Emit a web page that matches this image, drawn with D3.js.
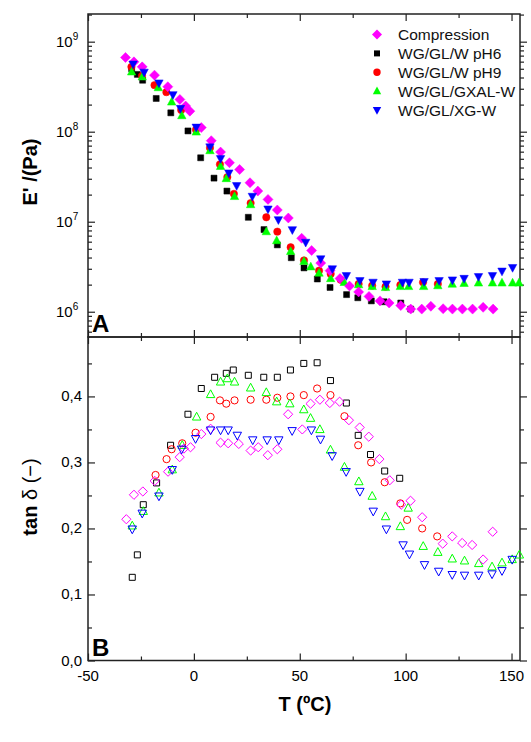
<!DOCTYPE html>
<html>
<head>
<meta charset="utf-8">
<script src="https://cdn.jsdelivr.net/npm/d3@7"></script>
<style>
body { margin:0; background:#fff; }
svg { display:block; font-family:"Liberation Sans", Arial, sans-serif; }
</style>
</head>
<body>
<svg id="chart" width="531" height="742"></svg>
<script>
// axis ranges and ticks
var tRange = [-50, 154];
var tTicks = [-50, 0, 50, 100, 150];
var tMinorTicks = [-25, 25, 75, 125];
var eRange = [5.24e5, 2.03e9];
var eTicks = [1e6, 1e7, 1e8, 1e9];
var tanRange = [0, 0.49];
var tanTicks = [0, 0.1, 0.2, 0.3, 0.4];
var tanMinorTicks = [0.05, 0.15, 0.25, 0.35, 0.45];

var seriesNames = ["Compression", "WG/GL/W pH6", "WG/GL/W pH9", "WG/GL/GXAL-W", "WG/GL/XG-W"];

// E' (Pa) vs T (ºC)
var compressionE = [[-32.3,6.68e8],[-28.3,5.97e8],[-24.4,5.25e8],[-18.6,4.25e8],[-12.3,3.16e8],[-6.6,2.28e8],[-3.9,1.93e8],[-1.9,1.69e8],[3.5,1.11e8],[8.2,7.94e7],[12.6,5.94e7],[16.8,4.52e7],[21.6,3.80e7],[26.5,2.71e7],[30.2,2.19e7],[35,1.77e7],[39.4,1.35e7],[44.6,1.10e7],[50.9,6.55e6],[55.6,4.79e6],[59.9,3.47e6],[64.3,2.86e6],[69,2.34e6],[73.5,1.93e6],[77.8,1.66e6],[82.7,1.48e6],[87.9,1.32e6],[92.2,1.25e6],[97.7,1.17e6],[102.4,1.07e6],[107.6,1.07e6],[111.9,1.15e6],[117.7,1.08e6],[122.1,1.07e6],[126.8,1.07e6],[131.6,1.07e6],[136.6,1.12e6],[141.3,1.07e6]];
var pH6E = [[-29.4,5.01e8],[-26.7,4.33e8],[-24.2,3.73e8],[-17.8,2.34e8],[-10.9,1.62e8],[-2.8,1.02e8],[3.2,5.13e7],[9.5,3.05e7],[15.6,2.19e7],[25.7,1.12e7],[33.1,8.18e6],[39.4,5.53e6],[46,3.98e6],[52,3.07e6],[58.3,2.31e6],[64.3,1.86e6],[72.1,1.55e6],[77.4,1.43e6],[83.8,1.32e6],[89.8,1.29e6],[97.7,1.25e6],[102.4,1.07e6]];
var pH9E = [[-29.5,5.25e8],[-24.5,4.17e8],[-18.6,3.29e8],[-13,2.75e8],[-6,1.74e8],[1,1.05e8],[7.6,6.61e7],[12.3,4.34e7],[15.8,3.13e7],[18.9,2.04e7],[26.8,1.61e7],[34.2,1.12e7],[39.4,7.76e6],[45.7,5.20e6],[52,3.72e6],[59.1,2.86e6],[64.6,2.63e6],[69.3,2.27e6],[77.8,2.03e6],[84.2,1.95e6],[90.5,1.90e6],[97.5,1.98e6],[108.2,2.12e6],[115.2,2.03e6]];
var gxalE = [[-29.4,4.62e8],[-24.4,4.07e8],[-16.8,3.09e8],[-10.5,2.14e8],[-5.7,1.51e8],[1.1,9.93e7],[7.6,6.17e7],[12.6,4.12e7],[15.3,3.02e7],[19.2,1.91e7],[26.8,1.55e7],[34.2,7.76e6],[39.1,6.17e6],[45.7,4.68e6],[52,3.63e6],[55.2,3.16e6],[59.1,2.69e6],[64.6,2.34e6],[71,2.12e6],[77.8,2.00e6],[84.2,1.91e6],[90.5,1.86e6],[97.5,1.91e6],[101.4,1.91e6],[108.5,1.91e6],[115.2,1.95e6],[122,2.03e6],[127.6,2.07e6],[134.4,2.09e6],[141,2.09e6],[145.5,2.09e6],[150.5,2.09e6],[153.5,2.09e6]];
var xgE = [[-28.7,5.62e8],[-23.5,4.57e8],[-16.5,3.47e8],[-9.9,2.57e8],[-6.3,1.81e8],[1.1,1.12e8],[7.6,6.76e7],[12.6,5.01e7],[16.5,3.47e7],[20.2,2.51e7],[27.6,1.91e7],[35,1.38e7],[39.9,1.05e7],[46.5,8.13e6],[52.8,5.89e6],[59.9,3.86e6],[65.4,2.99e6],[72,2.51e6],[78.4,2.21e6],[84.6,2.12e6],[90.9,2.03e6],[98.5,2.12e6],[101.6,2.12e6],[108.7,2.16e6],[115.8,2.21e6],[122.1,2.25e6],[127.6,2.34e6],[134.4,2.45e6],[141,2.51e6],[145.5,2.82e6],[150.5,3.09e6]];

// tan delta vs T (ºC)
var compressionTan = [[-31.9,0.214],[-28.3,0.251],[-24.1,0.256],[-18.5,0.272],[-12.2,0.286],[-6.7,0.308],[-4.7,0.321],[-1.6,0.323],[3.5,0.343],[7.9,0.351],[12.6,0.330],[16.2,0.329],[21.2,0.328],[26.8,0.318],[30.4,0.323],[34.9,0.311],[39.4,0.320],[44.5,0.373],[51.2,0.350],[55.1,0.389],[59.5,0.395],[64.2,0.390],[68.8,0.392],[73.2,0.364],[78.3,0.353],[82.6,0.339],[87.6,0.305],[92.5,0.273],[97.9,0.236],[102.3,0.242],[107.8,0.217],[117.5,0.177],[122,0.188],[126.7,0.178],[131.4,0.175],[136.6,0.153],[141.1,0.195]];
var pH6Tan = [[-29.1,0.126],[-26.7,0.160],[-23.9,0.236],[-17.6,0.269],[-11,0.326],[-2.8,0.373],[3.5,0.412],[9.8,0.429],[15.3,0.435],[18.6,0.440],[25.7,0.432],[33,0.429],[39.4,0.429],[45.6,0.440],[51.9,0.450],[58.2,0.451],[64.5,0.424],[72,0.390],[77.6,0.341],[83.4,0.312],[90.1,0.287],[97.2,0.276]];
var pH9Tan = [[-18.1,0.281],[-12.9,0.305],[-10.5,0.320],[-5.5,0.329],[0.8,0.345],[7.9,0.369],[12.3,0.394],[15.3,0.389],[19.2,0.394],[26.8,0.395],[34.2,0.395],[39.4,0.398],[45.6,0.400],[51.9,0.402],[58.2,0.412],[64.5,0.402],[71.1,0.370],[77.6,0.326],[83.7,0.300],[90.1,0.270],[97.5,0.238],[100.7,0.213],[107.8,0.200],[114.9,0.188]];
var gxalTan = [[-29.1,0.204],[-23.9,0.226],[-16.5,0.254],[-10.2,0.289],[-5.5,0.326],[1.3,0.369],[7.9,0.403],[12.6,0.422],[15.8,0.427],[19.2,0.422],[26.8,0.413],[34.2,0.406],[39.1,0.392],[45.3,0.389],[51.9,0.380],[55.1,0.367],[59.5,0.350],[64.5,0.319],[71.1,0.293],[77.9,0.271],[84.2,0.249],[90.5,0.218],[97.5,0.203],[101.2,0.231],[108.3,0.173],[115.2,0.164],[122,0.154],[127.8,0.151],[134.5,0.147],[140.8,0.142],[145.5,0.148],[150.3,0.153],[153.7,0.160]];
var xgTan = [[-29.1,0.199],[-24.4,0.223],[-16.5,0.249],[-10.2,0.289],[-5.8,0.320],[0.8,0.336],[7.9,0.349],[12.6,0.349],[16.2,0.349],[20.5,0.341],[27.8,0.334],[34.6,0.334],[40.1,0.334],[46.4,0.348],[55.5,0.349],[59.8,0.335],[65.3,0.310],[71.9,0.286],[78.4,0.256],[84.7,0.226],[90.9,0.199],[98.8,0.175],[101.8,0.161],[108.9,0.145],[115.6,0.135],[122,0.130],[127.8,0.129],[134.5,0.129],[140.8,0.131],[145.5,0.136],[150.3,0.153]];

var eSeries = [compressionE, pH6E, pH9E, gxalE, xgE];
var tanSeries = [compressionTan, pH6Tan, pH9Tan, gxalTan, xgTan];

// styles
var colors = ["#ff00ff", "#000000", "#ff0000", "#00ff00", "#0000ff"];
var shapes = ["diamond", "square", "circle", "up", "down"];
var drawOrder = [1, 2, 3, 0, 4];

var svg = d3.select("#chart");
svg.append("rect").attr("width", 531).attr("height", 742).attr("fill", "#fff");

var left = 88, right = 520,
    topA = 14, bottomA = 337,
    topB = 337, bottomB = 660.5;

var x = d3.scaleLinear().domain(tRange).range([left, right]);
var yE = d3.scaleLog().domain(eRange).range([bottomA, topA]);
var yTan = d3.scaleLinear().domain(tanRange).range([bottomB, topB]);

// marker path
var markerPath = function(shape, r) {
  switch (shape) {
    case "diamond": return "M0," + (-r) + "L" + r + ",0L0," + r + "L" + (-r) + ",0Z";
    case "square": return "M" + (-r) + "," + (-r) + "H" + r + "V" + r + "H" + (-r) + "Z";
    case "circle": return "M" + r + ",0A" + r + "," + r + " 0 1,1 " + (-r) + ",0A" + r + "," + r + " 0 1,1 " + r + ",0Z";
    case "up": return "M0," + (-r * 1.1) + "L" + r + "," + (r * 0.75) + "L" + (-r) + "," + (r * 0.75) + "Z";
    case "down": return "M0," + (r * 1.1) + "L" + r + "," + (-r * 0.75) + "L" + (-r) + "," + (-r * 0.75) + "Z";
  }
};
var filledSize = {diamond: 5, square: 3, circle: 3.7, up: 4.2, down: 4.2};
var openSize = {diamond: 4.6, square: 3, circle: 3.6, up: 4.2, down: 4.2};

// tick helper
var ticks = function(axisFn, scale, values, size, tx, ty) {
  svg.append("g")
    .attr("transform", "translate(" + tx + "," + ty + ")")
    .call(axisFn(scale).tickValues(values).tickSize(size).tickFormat(""))
    .call(function(g) { g.select(".domain").remove(); })
    .selectAll("line").attr("stroke", "#222").attr("stroke-width", 1.2);
};

var eMinor = [];
[5, 6, 7, 8, 9].forEach(function(p) {
  for (var k = 2; k <= 9; k++) eMinor.push(k * Math.pow(10, p));
});
eMinor = eMinor.filter(function(v) { return v > eRange[0] && v < eRange[1]; });

// panel A ticks
ticks(d3.axisLeft, yE, eTicks, -7, left, 0);
ticks(d3.axisLeft, yE, eMinor, -4, left, 0);
ticks(d3.axisRight, yE, eTicks, 7, right, 0);
ticks(d3.axisRight, yE, eMinor, 4, right, 0);
ticks(d3.axisTop, x, tTicks, -7, 0, topA);
ticks(d3.axisTop, x, tMinorTicks, -4, 0, topA);
ticks(d3.axisBottom, x, tTicks, -7, 0, bottomA);
ticks(d3.axisBottom, x, tMinorTicks, -4, 0, bottomA);

// panel B ticks
ticks(d3.axisLeft, yTan, tanTicks, -7, left, 0);
ticks(d3.axisLeft, yTan, tanMinorTicks, -4, left, 0);
ticks(d3.axisRight, yTan, tanTicks, 7, right, 0);
ticks(d3.axisRight, yTan, tanMinorTicks, 4, right, 0);
ticks(d3.axisTop, x, tTicks, -7, 0, topB);
ticks(d3.axisTop, x, tMinorTicks, -4, 0, topB);
ticks(d3.axisBottom, x, tTicks, -7, 0, bottomB);
ticks(d3.axisBottom, x, tMinorTicks, -4, 0, bottomB);

// frames
[[topA, bottomA], [topB, bottomB]].forEach(function(p) {
  svg.append("rect")
    .attr("x", left).attr("y", p[0])
    .attr("width", right - left).attr("height", p[1] - p[0])
    .attr("fill", "none").attr("stroke", "#222").attr("stroke-width", 1.5);
});

// tick labels
svg.append("g").selectAll("text")
  .data(tTicks).enter().append("text")
  .attr("x", function(d) { return x(d); })
  .attr("y", 681)
  .attr("text-anchor", "middle")
  .attr("font-size", 15)
  .text(function(d) { return d; });

svg.append("g").selectAll("text")
  .data(tanTicks).enter().append("text")
  .attr("x", 82)
  .attr("y", function(d) { return yTan(d) + 5; })
  .attr("text-anchor", "end")
  .attr("font-size", 15)
  .text(function(d) { return d.toFixed(1).replace(".", ","); });

var eLabel = svg.append("g").selectAll("text")
  .data(eTicks).enter().append("text")
  .attr("x", 56)
  .attr("y", function(d) { return yE(d) + 5; })
  .attr("font-size", 15);
eLabel.append("tspan").text("10");
eLabel.append("tspan")
  .attr("dy", -7).attr("font-size", 10)
  .text(function(d) { return Math.round(Math.log10(d)); });

// markers
var drawMarkers = function(data, yScale, i, open) {
  var r = open ? openSize[shapes[i]] : filledSize[shapes[i]];
  svg.append("g").selectAll("path")
    .data(data).enter().append("path")
    .attr("transform", function(d) { return "translate(" + x(d[0]) + "," + yScale(d[1]) + ")"; })
    .attr("d", markerPath(shapes[i], r))
    .attr("fill", open ? "none" : colors[i])
    .attr("stroke", colors[i])
    .attr("stroke-width", open ? 1 : 0.5);
};

drawOrder.forEach(function(i) {
  drawMarkers(eSeries[i], yE, i, false);
  drawMarkers(tanSeries[i], yTan, i, true);
});

// legend
var legend = svg.append("g").selectAll("g")
  .data(seriesNames).enter().append("g")
  .attr("transform", function(d, i) { return "translate(377," + (34.5 + i * 18.9) + ")"; });
legend.append("path")
  .attr("d", function(d, i) { return markerPath(shapes[i], filledSize[shapes[i]]); })
  .attr("fill", function(d, i) { return colors[i]; });
legend.append("text")
  .attr("x", 21).attr("y", 5.5)
  .attr("font-size", 15.5)
  .attr("fill", "#111")
  .text(function(d) { return d; });

// axis titles
svg.append("text")
  .attr("transform", "translate(37,172) rotate(-90)")
  .attr("text-anchor", "middle")
  .attr("font-size", 20).attr("font-weight", "bold")
  .text("E' /(Pa)");

var tanTitle = svg.append("text")
  .attr("transform", "translate(37,497) rotate(-90)")
  .attr("text-anchor", "middle")
  .attr("font-size", 20);
tanTitle.append("tspan").attr("font-weight", "bold").text("tan ");
tanTitle.append("tspan").text("δ (−)");

svg.append("text")
  .attr("x", 305).attr("y", 711)
  .attr("text-anchor", "middle")
  .attr("font-size", 20).attr("font-weight", "bold")
  .text("T (ºC)");

// panel letters
svg.append("text").attr("x", 92).attr("y", 332)
  .attr("font-size", 24).attr("font-weight", "bold").text("A");
svg.append("text").attr("x", 92).attr("y", 656)
  .attr("font-size", 24).attr("font-weight", "bold").text("B");
</script>
</body>
</html>
